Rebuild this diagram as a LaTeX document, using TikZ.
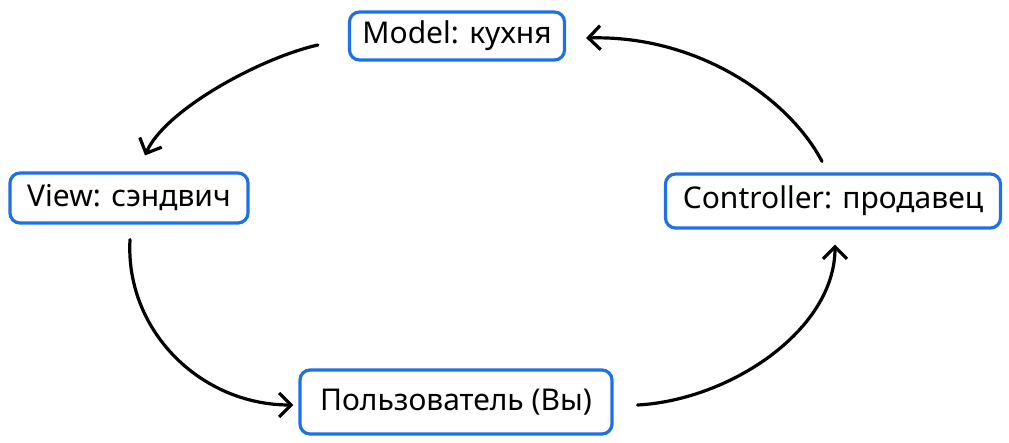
\documentclass[tikz,border=0pt]{standalone}
\usepackage{fontspec}
\setmainfont{Noto Sans}
\usetikzlibrary{arrows.meta}
\definecolor{boxblue}{HTML}{1F6FE5}
\tikzset{
  box/.style={draw=boxblue, line width=3.2pt, rounded corners=10pt, fill=white,
    inner sep=0pt, font=\fontsize{30}{34}\selectfont, text=black},
  arr/.style={draw=black, line width=3.2pt, line cap=round,
    -{Straight Barb[length=12pt,width=24pt,line width=3.2pt]}}
}
\begin{document}
\begin{tikzpicture}[x=1pt,y=-1pt]
\useasboundingbox (0,0) rectangle (1009,442);
\node[box, minimum width=215pt, minimum height=48pt] (model) at (457,36) {Model: кухня};
\node[box, minimum width=238pt, minimum height=50pt] (view) at (129,198) {View: сэндвич};
\node[box, minimum width=335pt, minimum height=54pt] (ctrl) at (833,201) {Controller: продавец};
\node[box, minimum width=312pt, minimum height=64pt] (user) at (456,402) {Пользователь (Вы)};
\coordinate (a1s) at ([shift={(-30,9)}]model.west);
\coordinate (a1e) at ([shift={(16,-16)}]view.north);
\coordinate (a2s) at ([shift={(1,15)}]view.south);
\coordinate (a2e) at ([shift={(-5,3)}]user.west);
\coordinate (a3s) at ([shift={(24,3)}]user.east);
\coordinate (a3e) at ([shift={(2,15)}]ctrl.south);
\coordinate (a4s) at ([shift={(-11,-11)}]ctrl.north);
\coordinate (a4e) at ([shift={(20,2)}]model.east);
\draw[arr] (a1s) .. controls (260,58) and (165,110) .. (a1e);
\draw[arr] (a2s) .. controls (125,330) and (200,405) .. (a2e);
\draw[arr] (a3s) .. controls (730,400) and (835,330) .. (a3e);
\draw[arr] (a4s) .. controls (790,100) and (700,35) .. (a4e);
\end{tikzpicture}
\end{document}
